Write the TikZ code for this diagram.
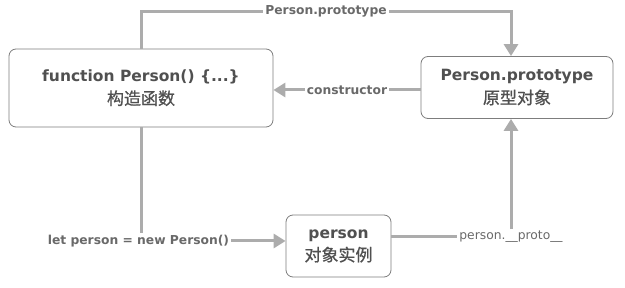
\documentclass[tikz,border=0pt]{standalone}
\usepackage{fontspec}
\setmainfont{DejaVu Sans}
\newfontfamily\cjk[FakeBold=0.8]{Noto Sans CJK SC}
\usetikzlibrary{arrows.meta}
\definecolor{cLine}{RGB}{172,172,172}
\definecolor{cBox}{RGB}{125,125,125}
\definecolor{cText}{RGB}{80,80,80}
\definecolor{cLabel}{RGB}{105,105,105}
\newcommand{\zhline}[1]{\mdseries\cjk\fontsize{17}{23}\selectfont #1}

\begin{document}
\begin{tikzpicture}[x=1pt,y=-1pt,
  objbox/.style={draw=cBox,line width=0.8pt,rounded corners=7pt,fill=white,align=center,
    text=cText,font=\fontsize{15.5}{23}\selectfont\bfseries},
  link/.style={draw=cLine,line width=3pt},
  linkarr/.style={link,-{Triangle[length=12pt,width=14pt]}},
  linktext/.style={fill=white,text=cLabel,inner sep=2pt,font=\fontsize{12.3}{14}\selectfont\bfseries}]
\useasboundingbox (0,0) rectangle (625,288);
% objects
\node[objbox,minimum width=264,minimum height=78] (ctor) at (141,88) {function Person() \{...\}\\\zhline{构造函数}};
\node[objbox,minimum width=192,minimum height=62] (proto) at (517,87.5) {Person.prototype\\\zhline{原型对象}};
\node[objbox,minimum width=105,minimum height=62] (inst) at (338.5,246) {person\\\zhline{对象实例}};
% links
\draw[linkarr] (ctor.north) -- ++(0,-37) -| ([xshift=-6pt]proto.north)
  node[pos=0.25,linktext] {Person.prototype};
\draw[linkarr] ([yshift=-2.5pt]proto.west) -- ([yshift=-2.5pt]proto.west -| ctor.east)
  node[midway,linktext] {constructor};
\node[linktext] (newtext) at (138.5,241) {let person = new Person()};
\draw[link] (ctor.south) -- (ctor.south |- newtext.north);
\draw[linkarr] (newtext.east) -- (newtext -| inst.west);
\node[linktext,font=\fontsize{12.3}{14}\selectfont] (protolink) at (511,237) {person.\_\_proto\_\_};
\draw[link] (inst.east |- protolink) -- (protolink.west);
\draw[linkarr] (protolink.north -| proto.south) ++(-6pt,0) -- ([xshift=-6pt]proto.south);
\end{tikzpicture}
\end{document}
